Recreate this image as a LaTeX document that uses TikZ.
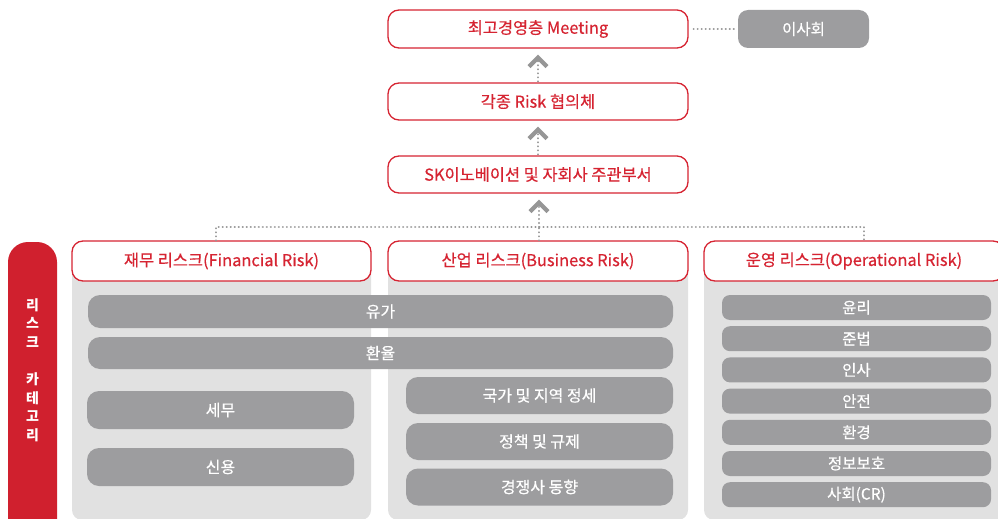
\documentclass[tikz,border=0pt]{standalone}
\usepackage{fontspec}
\setmainfont{Noto Sans CJK KR}[UprightFeatures={FakeBold=0.5}]
\usetikzlibrary{arrows.meta}
\definecolor{skred}{RGB}{208,32,46}
\definecolor{hdrred}{RGB}{214,36,50}
\definecolor{panelgray}{RGB}{225,225,225}
\definecolor{bargray}{RGB}{157,157,159}
\definecolor{dotgray}{RGB}{150,150,150}
\definecolor{chevgray}{RGB}{150,150,150}
\begin{document}
\begin{tikzpicture}[x=1pt,y=-1pt,
  hdr/.style={draw=hdrred, line width=1.3pt, fill=white, rounded corners=11pt,
    text=hdrred, font=\fontsize{16.4}{19}\selectfont, inner sep=0pt},
  boardbox/.style={fill=bargray, rounded corners=10pt, text=white,
    font=\fontsize{15.5}{18}\selectfont, inner sep=0pt},
  gbar/.style={fill=bargray, rounded corners=12pt, text=white,
    font=\fontsize{16}{19}\selectfont, inner sep=0pt},
  obar/.style={fill=bargray, rounded corners=8pt, text=white,
    font=\fontsize{15.5}{18}\selectfont, inner sep=0pt,
    minimum width=269pt, minimum height=25pt},
  panel/.style={fill=panelgray, rounded corners=10pt},
  dotline/.style={draw=dotgray, line width=2.2pt, dash pattern=on 0.01pt off 4pt, line cap=round},
  chev/.style={-{Straight Barb[length=9pt 0 0,width=18pt 0 0,line width'=4.2pt,color=chevgray]}}
]
\useasboundingbox (0,0) rectangle (998,519);
\clip (0,0) rectangle (998,519);

% background panels
\fill[panel] (72,252) rectangle (371,520);
\fill[panel] (388,252) rectangle (688,520);
\fill[panel] (704,252) rectangle (1010,520);

% left red bar
\node[fill=skred, rounded corners=20pt, minimum width=49pt, minimum height=300pt, inner sep=0pt] (catbar) at (32.5,392) {};
\node[text=white, font=\bfseries\fontsize{14}{18.6}\selectfont, align=center, inner sep=0pt] (cattext) at (32.5,370)
  {리\\스\\크\\[18.6pt]카\\테\\고\\리};

% top chain
\node[hdr, minimum width=300pt, minimum height=38pt] (top) at (538,29) {최고경영층 Meeting};
\node[boardbox, minimum width=131pt, minimum height=38pt] (board) at (803.5,29) {이사회};
\node[hdr, minimum width=300pt, minimum height=37pt] (risk) at (538,101.5) {각종 Risk 협의체};
\node[hdr, minimum width=300pt, minimum height=37pt] (sk) at (538,174.5) {SK이노베이션 및 자회사 주관부서};

% category headers
\node[hdr, minimum width=299pt, minimum height=40pt] (fin) at (221.5,261) {재무 리스크(Financial Risk)};
\node[hdr, minimum width=300pt, minimum height=40pt] (bus) at (538,261) {산업 리스크(Business Risk)};
\node[hdr, minimum width=300pt, minimum height=40pt] (ops) at (854,261) {운영 리스크(Operational Risk)};

% shared bars
\node[gbar, minimum width=585pt, minimum height=33pt] (oil) at (380.5,311.5) {유가};
\node[gbar, minimum width=585pt, minimum height=32pt] (fx) at (380.5,353) {환율};

% financial bars
\node[gbar, minimum width=267pt, minimum height=38pt] (tax) at (220.5,410) {세무};
\node[gbar, minimum width=267pt, minimum height=38pt] (credit) at (220.5,467) {신용};

% business bars
\node[gbar, minimum width=267pt, minimum height=37pt] (geo) at (539.5,395.5) {국가 및 지역 정세};
\node[gbar, minimum width=267pt, minimum height=37pt] (policy) at (539.5,441.5) {정책 및 규제};
\node[gbar, minimum width=267pt, minimum height=37pt] (comp) at (539.5,487) {경쟁사 동향};

% operational bars
\node[obar] (ethics) at (856.5,307.5) {윤리};
\node[obar] (law) at (856.5,338.7) {준법};
\node[obar] (hr) at (856.5,369.9) {인사};
\node[obar] (safety) at (856.5,401.1) {안전};
\node[obar] (env) at (856.5,432.3) {환경};
\node[obar] (info) at (856.5,463.5) {정보보호};
\node[obar] (social) at (856.5,494.7) {사회(CR)};

% connectors
\draw[dotline, shorten <=5pt, shorten >=3pt] (top.east) -- (board.west);
\draw[dotline, chev, shorten <=1pt, shorten >=6pt] (risk.north) -- (top.south);
\draw[dotline, chev, shorten <=1pt, shorten >=6pt] (sk.north) -- (risk.south);

\coordinate (hub) at (539,227);
\coordinate (dl) at (216,227);
\coordinate (dr) at (864,227);
\draw[dotline, chev, shorten >=6pt] (hub) -- (sk.south -| hub);
\draw[dotline] (fin.north -| dl) -- (dl) -- (dr) -- (ops.north -| dr);
\draw[dotline] (bus.north -| hub) -- (hub);
\end{tikzpicture}
\end{document}
